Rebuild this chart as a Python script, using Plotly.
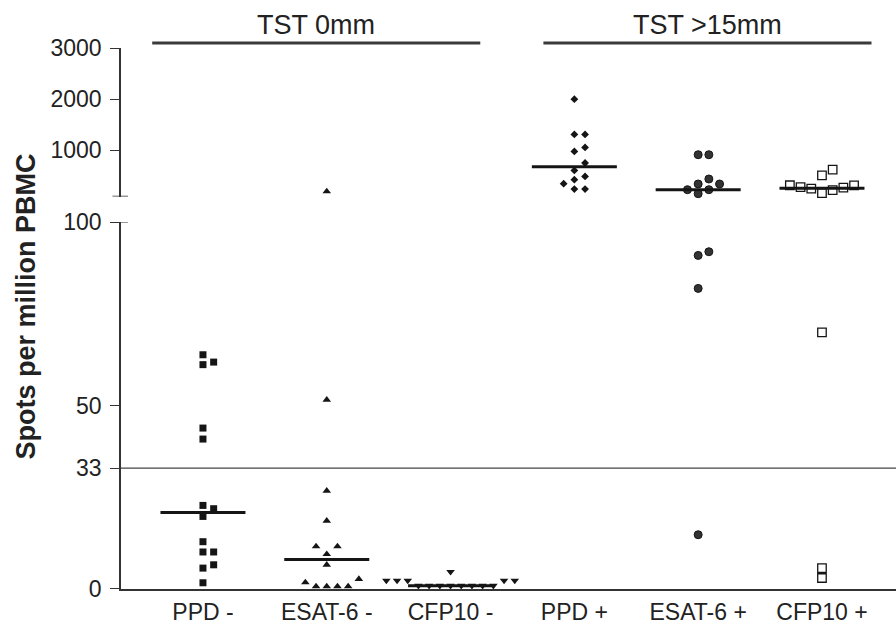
import numpy as np
import plotly.graph_objects as go

# ---------------------------------------------------------------- data
categories = ["PPD -", "ESAT-6 -", "CFP10 -", "PPD +", "ESAT-6 +", "CFP10 +"]
header_labels = ["TST 0mm", "TST >15mm"]
cutoff = 33

ppd_neg = [63.9, 61.9, 61.2, 43.9, 40.9, 22.8, 21.9, 19.8, 12.9, 10.1, 10.1, 6.6, 5.7, 1.7]
esat_neg = [200, 51.6, 26.8, 18.6, 11.6, 11.6, 9.5, 6.6, 2.7, 1.8, 0.7, 0.7, 0.7, 0.7]
cfp_neg = [4.7, 2.3, 2.3, 2.3, 2.3, 2.3, 0.9, 0.9, 0.9, 0.9, 0.9, 0.9, 0.9, 0.9]
ppd_pos = [2000, 1313, 1313, 1059, 981, 754, 610, 493, 428, 350, 246, 246]
esat_pos = [916, 916, 442, 344, 344, 233, 233, 155, 92, 91, 82, 14.8]
cfp_pos = [623, 512, 320, 317, 282, 272, 252, 223, 165, 70, 5.7, 3.0]

lower_ticks = [0, 33, 50, 100]
upper_ticks = [1000, 2000, 3000]

# ---------------------------------------------------------------- layout geometry
W, H = 896, 625
MARGIN = dict(l=121, r=0, t=48, b=36, pad=0, autoexpand=False)
plot_w = W - MARGIN["l"] - MARGIN["r"]
plot_h = H - MARGIN["t"] - MARGIN["b"]
low_dom, up_dom = [0.0, 0.6776], [0.7255, 1.0]
low_rng, up_rng = [0, 100], [100, 3000]
x_rng = [-0.662, 5.598]
px_per_x = plot_w / (x_rng[1] - x_rng[0])

INK = "#151515"
TEXT = "#222222"
FONT = "Liberation Sans, Arial, sans-serif"

symbols = [
    dict(symbol="square", size=7, color=INK),
    dict(symbol="triangle-up", size=7.5, color=INK),
    dict(symbol="triangle-down", size=7.5, color=INK),
    dict(symbol="diamond", size=6, color=INK),
    dict(symbol="circle", size=8, color="#333333", line=dict(color=INK, width=1)),
    dict(symbol="square-open", size=8.5, color=INK, line=dict(color=INK, width=1.3)),
]
groups = [ppd_neg, esat_neg, cfp_neg, ppd_pos, esat_pos, cfp_pos]


def to_px(v):
    """Vertical pixel height (from the bottom of the plot) of a value on the split axis."""
    if v <= low_rng[1]:
        f = (v - low_rng[0]) / (low_rng[1] - low_rng[0])
        return (low_dom[0] + f * (low_dom[1] - low_dom[0])) * plot_h
    f = (v - up_rng[0]) / (up_rng[1] - up_rng[0])
    return (up_dom[0] + f * (up_dom[1] - up_dom[0])) * plot_h


def swarm_slots(values, gap=8.0):
    """Column-scatter offsets: each point takes the nearest free slot to the centre."""
    vals = np.asarray(values, float)
    order = np.argsort(vals, kind="stable")
    placed, slots = [], np.zeros(len(vals))
    candidates = [0] + [s for k in range(1, 20) for s in (k, -k)]
    for i in order:
        p = to_px(vals[i])
        for s in candidates:
            if all(not (ps == s and abs(pp - p) < gap) for ps, pp in placed):
                break
        slots[i] = s
        placed.append((s, p))
    return slots


slot_w = 10.7 / px_per_x
half_median = 42.5 / px_per_x

fig = go.Figure()
for gi, vals in enumerate(groups):
    vals = np.asarray(vals, float)
    xs = gi + swarm_slots(vals) * slot_w
    lo = vals <= low_rng[1]
    for mask, yax in ((lo, "y"), (~lo, "y2")):
        if mask.any():
            fig.add_trace(go.Scatter(
                x=xs[mask], y=vals[mask], mode="markers", yaxis=yax, xaxis="x",
                marker=symbols[gi], cliponaxis=False, showlegend=False,
                hoverinfo="skip"))
    med = float(np.median(vals))
    fig.add_trace(go.Scatter(
        x=[gi - half_median, gi + half_median], y=[med, med], mode="lines",
        yaxis="y" if med <= low_rng[1] else "y2", xaxis="x",
        line=dict(color=INK, width=3), cliponaxis=False, showlegend=False,
        hoverinfo="skip"))

axis_common = dict(
    showline=True, linecolor="#333333", linewidth=1.6, ticks="outside",
    ticklen=9, tickwidth=1.4, tickcolor="#333333", showgrid=False, zeroline=False,
    tickfont=dict(family=FONT, size=23, color=TEXT), ticklabelstandoff=4,
    automargin=False,
)

fig.update_layout(
    width=W, height=H, margin=MARGIN,
    paper_bgcolor="white", plot_bgcolor="white",
    xaxis=dict(
        range=x_rng, tickmode="array", tickvals=list(range(len(categories))),
        ticktext=categories, showline=True, linecolor="#333333", linewidth=2,
        ticks="", showgrid=False, zeroline=False, anchor="y", automargin=False,
        tickfont=dict(family=FONT, size=23, color=TEXT), ticklabelstandoff=1,
    ),
    yaxis=dict(domain=low_dom, range=low_rng, tickmode="array",
               tickvals=lower_ticks, anchor="x", **axis_common),
    yaxis2=dict(domain=up_dom, range=up_rng, tickmode="array",
                tickvals=upper_ticks, anchor="x", **axis_common),
)

# threshold line
fig.add_shape(type="line", xref="x domain", yref="y", x0=0, x1=1,
              y0=cutoff, y1=cutoff, line=dict(color="#444444", width=1.2))

# end caps at the axis break
for yref in ("y", "y2"):
    fig.add_shape(type="line", xref="x domain", yref=yref, x0=-0.011, x1=0.009,
                  y0=100, y1=100, line=dict(color="#333333", width=1.4))

# group headers
header_spans = [(-0.41, 2.24), (2.75, 5.40)]
for label, (a, b) in zip(header_labels, header_spans):
    fig.add_shape(type="line", xref="x", yref="paper", x0=a, x1=b,
                  y0=1.0092, y1=1.0092, line=dict(color="#3a3a3a", width=3))
    fig.add_annotation(x=(a + b) / 2, y=1.0092, xref="x", yref="paper",
                       text=label, showarrow=False, yanchor="bottom", yshift=1,
                       font=dict(family=FONT, size=27, color=TEXT))

# y axis title spanning both segments
fig.add_annotation(x=-0.122, y=0.523, xref="paper", yref="paper",
                   xanchor="center", yanchor="middle",
                   text="<b>Spots per million PBMC</b>", textangle=-90,
                   showarrow=False, font=dict(family=FONT, size=27, color=TEXT))

fig.write_html("out.html")
